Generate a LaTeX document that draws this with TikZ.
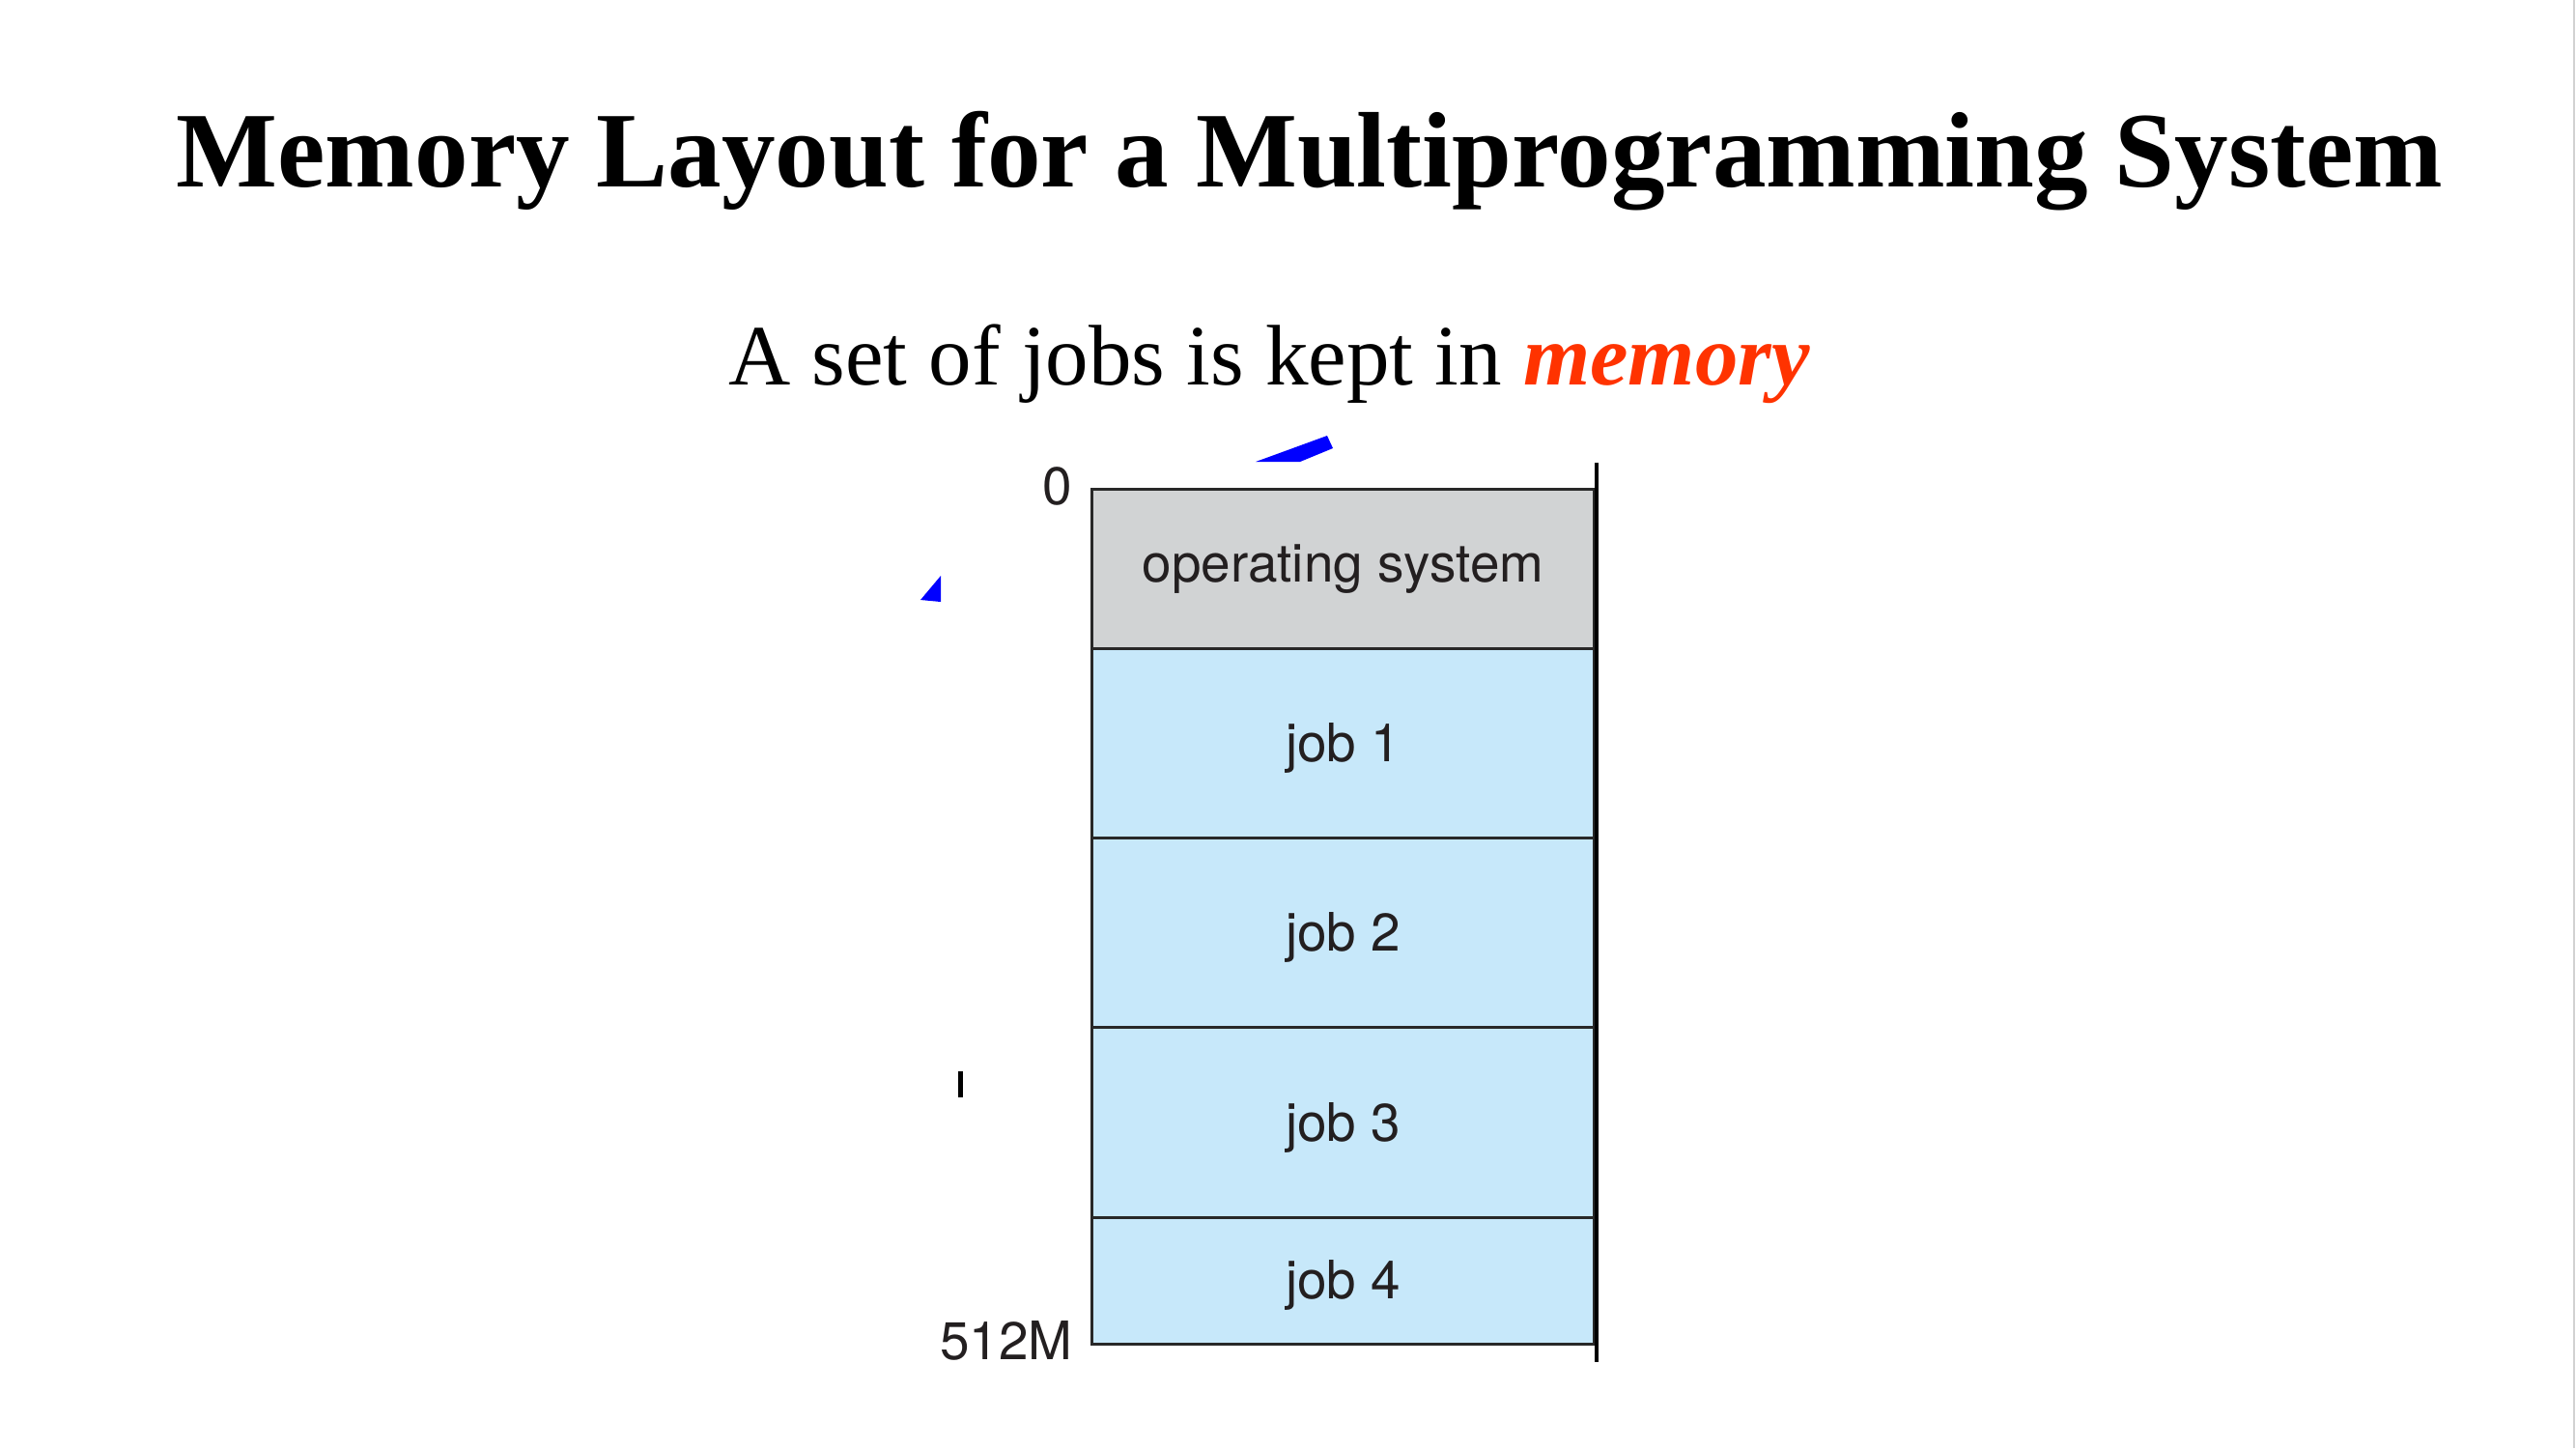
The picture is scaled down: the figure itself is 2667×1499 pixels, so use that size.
\documentclass[tikz,border=0pt]{standalone}
\usepackage{fontspec}
\setmainfont{Liberation Serif}
\newfontfamily\diagfont{TeX Gyre Heros}
\definecolor{osgray}{RGB}{209,211,212}
\definecolor{jobblue}{RGB}{199,232,250}
\definecolor{edgegray}{RGB}{40,40,40}
\definecolor{inkgray}{RGB}{35,31,32}
\definecolor{framegray}{RGB}{210,210,210}
\definecolor{accent}{RGB}{255,51,0}
\begin{document}
\begin{tikzpicture}[x=0.01cm, y=-0.01cm,
  memblock/.style={draw=edgegray, line width=0.85pt,
    minimum width=5.19cm, inner sep=0pt, font=\diagfont\fontsize{15.6}{18}\selectfont,
    text=inkgray},
  joblabel/.style={text height=14pt, text depth=3.3pt},
  addr/.style={inner sep=0pt, anchor=base east, font=\diagfont\fontsize{15.6}{18}\selectfont,
    text=inkgray},
  blotch/.style={fill=blue, draw=none}
]
% page frame
\useasboundingbox (0,0) rectangle (2667,1499);
\fill[white] (0,0) rectangle (2667,1499);
\draw[line width=0.6pt, framegray] (2665,0) -- (2665,1499);

% headings
\node (title) [anchor=base, inner sep=0pt, font=\bfseries\fontsize{31.6}{36}\selectfont]
  at (1356,193) {Memory Layout for a Multiprogramming System};
\node (subtitle) [anchor=base, inner sep=0pt, font=\fontsize{25.3}{30}\selectfont]
  at (1314,398) {A set of jobs is kept in \textcolor{accent}{\textbf{\textit{memory}}}};

% memory blocks, top to bottom
\node (os)   [memblock, fill=osgray,  minimum height=1.65cm] at (1390.5,589.5)  {operating system};
\node (job1) [memblock, joblabel, fill=jobblue, minimum height=1.96cm] at (1390.5,770)    {job 1};
\node (job2) [memblock, joblabel, fill=jobblue, minimum height=1.96cm] at (1390.5,966)    {job 2};
\node (job3) [memblock, joblabel, fill=jobblue, minimum height=1.97cm] at (1390.5,1162.5) {job 3};
\node (job4) [memblock, joblabel, fill=jobblue, minimum height=1.30cm] at (1390.5,1326)   {job 4};

% right-hand boundary of the address space
\coordinate (rtop) at (1653,479);
\coordinate (rbot) at (1653,1410);
\draw[line width=1.3pt, black] (rtop) -- (rbot);

% address labels
\node (a0)   [addr] at (1111,522)  {0};
\node (aend) [addr] at (1111,1407) {512M};

% stray marks
\fill[blotch] (1300,478) -- (1374,451) -- (1380,464) -- (1346,478) -- cycle;
\fill[blotch] (974,596) -- (953,621) -- (974,623) -- cycle;
\fill[black] (992,1109) rectangle (997,1136);
\end{tikzpicture}
\end{document}
